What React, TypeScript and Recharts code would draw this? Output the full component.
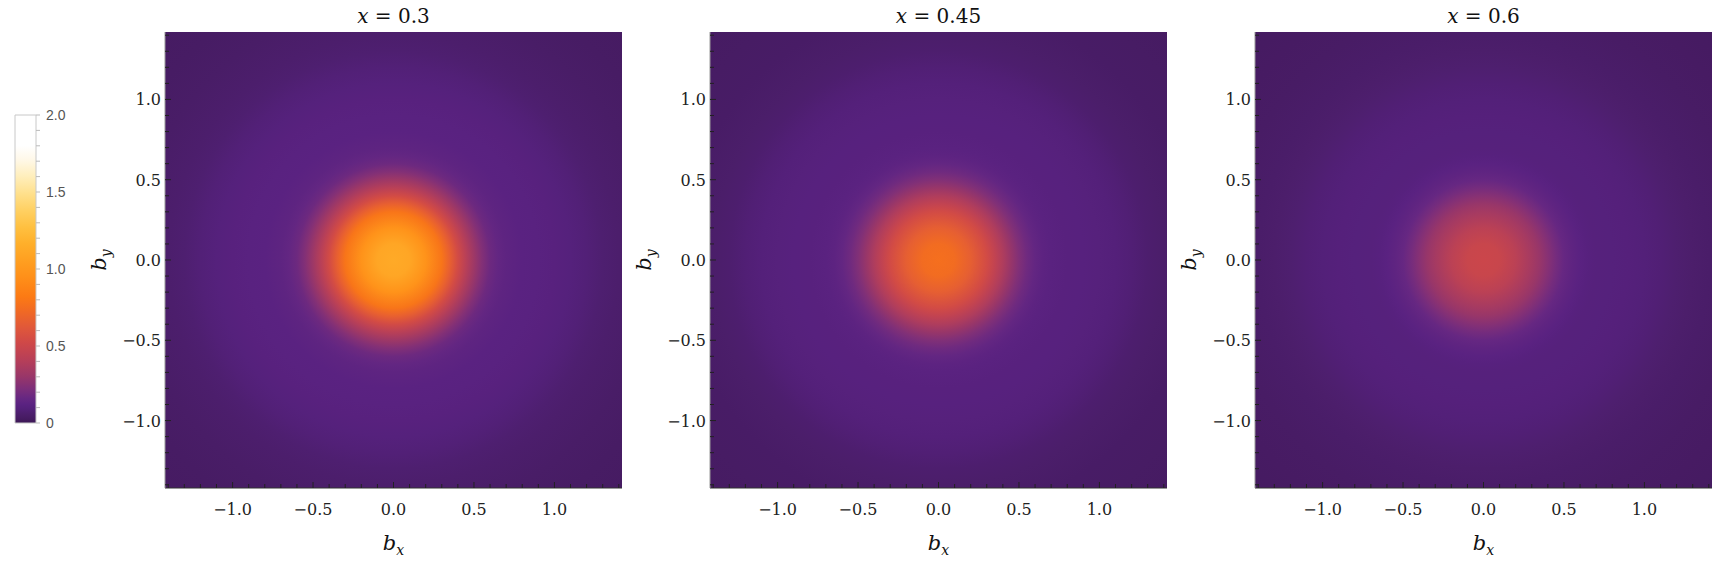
import React from "react";
import { ScatterChart, XAxis, YAxis, ReferenceArea } from "recharts";

// panel titles (x values)
const TITLES = ["0.3", "0.45", "0.6"];

// radial profile of the density, sampled at these radii |b|
const RADII = [0, 0.1, 0.2, 0.3, 0.35, 0.4, 0.45, 0.5, 0.55, 0.6, 0.65, 0.7, 0.8, 0.9, 1.0, 1.1, 1.2, 1.3, 1.4, 1.6, 1.8, 2.05];
const PROFILE_X03 = [1.13, 1.1, 0.97, 0.79, 0.67, 0.54, 0.42, 0.32, 0.24, 0.18, 0.15, 0.133, 0.12, 0.115, 0.11, 0.1, 0.085, 0.07, 0.06, 0.045, 0.035, 0.03];
const PROFILE_X045 = [0.76, 0.74, 0.66, 0.54, 0.46, 0.38, 0.3, 0.235, 0.185, 0.15, 0.13, 0.118, 0.11, 0.108, 0.102, 0.093, 0.08, 0.065, 0.055, 0.042, 0.035, 0.03];
const PROFILE_X06 = [0.5, 0.49, 0.43, 0.345, 0.3, 0.25, 0.2, 0.16, 0.135, 0.12, 0.108, 0.103, 0.1, 0.097, 0.09, 0.08, 0.068, 0.058, 0.05, 0.04, 0.033, 0.028];
const PROFILES = [PROFILE_X03, PROFILE_X045, PROFILE_X06];

// axis ticks
const AXIS_TICKS = [-1.4, -1.3, -1.2, -1.1, -1.0, -0.9, -0.8, -0.7, -0.6, -0.5, -0.4, -0.3, -0.2, -0.1, 0, 0.1, 0.2, 0.3, 0.4, 0.5, 0.6, 0.7, 0.8, 0.9, 1.0, 1.1, 1.2, 1.3, 1.4];
const LABEL_TICKS = [-1, -0.5, 0, 0.5, 1];
const BAR_TICKS = [0, 0.1, 0.2, 0.3, 0.4, 0.5, 0.6, 0.7, 0.8, 0.9, 1.0, 1.1, 1.2, 1.3, 1.4, 1.5, 1.6, 1.7, 1.8, 1.9, 2.0];
const BAR_LABELS = [0, 0.5, 1, 1.5, 2];

// colour scale (sunset-like)
const CMAP_VALUES = [0, 0.03, 0.06, 0.09, 0.12, 0.16, 0.22, 0.3, 0.41, 0.52, 0.62, 0.73, 0.82, 0.95, 1.06, 1.17, 1.27, 1.38, 1.49, 1.6, 1.71, 1.8, 2.0];
const CMAP_COLORS = ["#3c1855", "#461b62", "#4c1e6c", "#532079", "#5a2281", "#662782", "#7c2e7a", "#983669", "#b73f58", "#cf4848", "#e0583a", "#f16a23", "#fc7a14", "#ff9019", "#ffa021", "#ffb02b", "#ffc040", "#ffd062", "#ffe08c", "#ffeebb", "#fff8e8", "#ffffff", "#ffffff"];

const HALF = 1.42;
const SERIF = "'DejaVu Serif', serif";
const SANS = "'Liberation Sans', Arial, sans-serif";

function hexToRgb(h: string) {
  const n = parseInt(h.slice(1), 16);
  return [(n >> 16) & 255, (n >> 8) & 255, n & 255];
}

function colorAt(v: number) {
  let i = 0;
  while (i < CMAP_VALUES.length - 2 && v > CMAP_VALUES[i + 1]) i++;
  const t = Math.max(0, Math.min(1, (v - CMAP_VALUES[i]) / (CMAP_VALUES[i + 1] - CMAP_VALUES[i])));
  const a = hexToRgb(CMAP_COLORS[i]);
  const b = hexToRgb(CMAP_COLORS[i + 1]);
  const c = a.map((ch, k) => Math.round(ch + (b[k] - ch) * t));
  return `rgb(${c[0]},${c[1]},${c[2]})`;
}

const isMajor = (v: number) => Math.abs(v * 2 - Math.round(v * 2)) < 1e-6;
const fmt = (v: number) => (v < 0 ? "\u2212" : "") + Math.abs(v).toFixed(1);

function BottomTick(props: any) {
  const { x, y, payload } = props;
  const v = payload.value;
  return (
    <g>
      <line x1={x} y1={y} x2={x} y2={y - (isMajor(v) ? 6 : 4)} stroke="#222" />
      {LABEL_TICKS.includes(v) ? (
        <text x={x} y={y + 27} textAnchor="middle" fontFamily={SERIF} fontSize={16} fill="#222">{fmt(v)}</text>
      ) : null}
    </g>
  );
}

function TopTick(props: any) {
  const { x, y, payload } = props;
  return <line x1={x} y1={y} x2={x} y2={y + (isMajor(payload.value) ? 6 : 4)} stroke="#222" />;
}

function LeftTick(props: any) {
  const { x, y, payload } = props;
  const v = payload.value;
  return (
    <g>
      <line x1={x} y1={y} x2={x + (isMajor(v) ? 6 : 4)} y2={y} stroke="#222" />
      {LABEL_TICKS.includes(v) ? (
        <text x={x - 4} y={y + 6} textAnchor="end" fontFamily={SERIF} fontSize={16} fill="#222">{fmt(v)}</text>
      ) : null}
    </g>
  );
}

function RightTick(props: any) {
  const { x, y, payload } = props;
  return <line x1={x} y1={y} x2={x - (isMajor(payload.value) ? 6 : 4)} y2={y} stroke="#222" />;
}

function BarTick(props: any) {
  const { x, y, payload } = props;
  const v = payload.value;
  return (
    <g>
      <line x1={x} y1={y} x2={x + 4} y2={y} stroke="#bbb" />
      {BAR_LABELS.includes(v) ? (
        <text x={x + 10} y={y + 5} fontFamily={SANS} fontSize={14} fill="#555">{v === 0 ? "0" : v.toFixed(1)}</text>
      ) : null}
    </g>
  );
}

function Panel({ index }: { index: number }) {
  const width = index === 2 ? 562 : 572;
  const right = width - 45 - 60 - 457;
  const margin = { top: 32, bottom: 16, left: 45, right };
  const bottomLabel = (p: any) => {
    const vb = p.viewBox;
    const cx = vb.x + vb.width / 2;
    return (
      <g>
        <text x={cx} y={23} textAnchor="middle" fontFamily={SERIF} fontSize={20} fill="#111">
          <tspan fontStyle="italic">x</tspan> = {TITLES[index]}
        </text>
        <text x={cx} y={550} textAnchor="middle" fontFamily={SERIF} fontSize={21} fill="#111" fontStyle="italic">
          b<tspan fontSize={14} dy={5}>x</tspan>
        </text>
      </g>
    );
  };
  const yLabel = (p: any) => {
    const vb = p.viewBox;
    const tx = vb.x + 1;
    const ty = vb.y + vb.height / 2;
    return (
      <text x={tx} y={ty} transform={`rotate(-90 ${tx} ${ty})`} textAnchor="middle" fontFamily={SERIF} fontSize={21} fill="#111" fontStyle="italic">
        b<tspan fontSize={14} dy={5}>y</tspan>
      </text>
    );
  };
  return (
    <div style={{ position: "absolute", left: 60 + 545 * index, top: 0, width, height: 564 }}>
      {/* density layer */}
      <div style={{ position: "absolute", left: 0, top: 0 }}>
        <ScatterChart width={width} height={564} margin={margin}>
          <XAxis type="number" dataKey="x" domain={[-HALF, HALF]} allowDataOverflow tick={false} axisLine={false} tickLine={false} height={60} />
          <YAxis type="number" dataKey="y" domain={[-HALF, HALF]} allowDataOverflow tick={false} axisLine={false} tickLine={false} width={60} />
          <ReferenceArea x1={-HALF} x2={HALF} y1={-HALF} y2={HALF} fill={`url(#heat${index})`} fillOpacity={1} stroke="none" />
        </ScatterChart>
      </div>
      {/* frame, ticks and labels */}
      <div style={{ position: "absolute", left: 0, top: 0 }}>
        <ScatterChart width={width} height={564} margin={margin}>
          <XAxis type="number" dataKey="x" domain={[-HALF, HALF]} allowDataOverflow ticks={AXIS_TICKS} interval={0}
            tickSize={0} tickMargin={0} tickLine={false} tick={<BottomTick />} height={60}
            axisLine={{ stroke: "#333" }} label={{ content: bottomLabel }} />
          <XAxis xAxisId="top" orientation="top" type="number" dataKey="x" domain={[-HALF, HALF]} allowDataOverflow ticks={AXIS_TICKS} interval={0}
            tickSize={0} tickMargin={0} tickLine={false} tick={<TopTick />} height={0}
            axisLine={{ stroke: "#999" }} />
          <YAxis type="number" dataKey="y" domain={[-HALF, HALF]} allowDataOverflow ticks={AXIS_TICKS} interval={0}
            tickSize={0} tickMargin={0} tickLine={false} tick={<LeftTick />} width={60}
            axisLine={{ stroke: "#999" }} label={{ content: yLabel }} />
          <YAxis yAxisId="right" orientation="right" type="number" dataKey="y" domain={[-HALF, HALF]} allowDataOverflow ticks={AXIS_TICKS} interval={0}
            tickSize={0} tickMargin={0} tickLine={false} tick={<RightTick />} width={0}
            axisLine={{ stroke: "#999" }} />
        </ScatterChart>
      </div>
    </div>
  );
}

function ColorBar() {
  return (
    <div style={{ position: "absolute", left: 0, top: 0, width: 100, height: 564 }}>
      <ScatterChart width={100} height={564} margin={{ top: 115, bottom: 141, left: 15, right: 14 }}>
        <XAxis type="number" dataKey="x" domain={[0, 1]} allowDataOverflow tick={false} axisLine={false} tickLine={false} height={0} />
        <YAxis type="number" dataKey="y" orientation="right" domain={[0, 2]} allowDataOverflow ticks={BAR_TICKS} interval={0} width={50}
          tickSize={0} tickMargin={0} tickLine={false} axisLine={false} tick={<BarTick />} />
        <ReferenceArea x1={0} x2={1} y1={0} y2={2} fill="url(#cbar)" fillOpacity={1} stroke="#c8c8c8" strokeWidth={1} />
      </ScatterChart>
    </div>
  );
}

export default function App() {
  const rmax = RADII[RADII.length - 1];
  return (
    <div style={{ position: "absolute", left: 0, top: 0, width: 1714, height: 564, background: "#fff", overflow: "hidden" }}>
      <svg width={0} height={0} style={{ position: "absolute" }}>
        <defs>
          {PROFILES.map((prof, i) => (
            <radialGradient key={i} id={`heat${i}`} cx="0.5" cy="0.5" r={0.5 * rmax / HALF}>
              {RADII.map((r, k) => (
                <stop key={k} offset={r / rmax} stopColor={colorAt(prof[k])} />
              ))}
            </radialGradient>
          ))}
          <linearGradient id="cbar" x1="0" y1="0" x2="0" y2="1">
            {CMAP_VALUES.slice().reverse().map((v, k) => (
              <stop key={k} offset={1 - v / 2} stopColor={colorAt(v)} />
            ))}
          </linearGradient>
        </defs>
      </svg>
      {TITLES.map((_, i) => (
        <Panel key={i} index={i} />
      ))}
      <ColorBar />
    </div>
  );
}
